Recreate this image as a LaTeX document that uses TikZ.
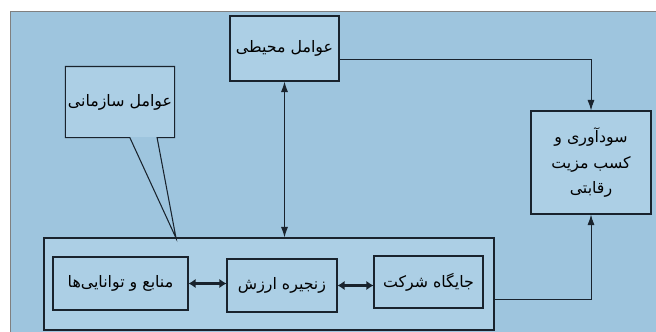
\documentclass[tikz,border=0pt]{standalone}
\usepackage{fontspec}
\usetikzlibrary{arrows.meta,calc}
\newfontfamily\arabicfont[Script=Arabic]{DejaVu Sans}
\TeXXeTstate=1
\definecolor{bgblue}{RGB}{158,197,222}
\definecolor{boxblue}{RGB}{172,207,229}
\definecolor{edge}{RGB}{25,35,45}
\newcommand{\fa}[1]{\beginR #1\endR}
\tikzset{
  block/.style={draw=edge,fill=boxblue,line width=0.9pt,inner sep=0pt,align=center,
    font=\arabicfont\fontsize{13.5}{22}\selectfont},
  flow/.style={draw=edge,line width=0.8pt,-{Latex[length=9pt,width=6pt]}},
  twoway/.style={draw=edge,line width=0.8pt,{Latex[length=9pt,width=6pt]}-{Latex[length=9pt,width=6pt]}},
  link/.style={draw=edge,line width=2pt,{Latex[length=6pt,width=8pt]}-{Latex[length=6pt,width=8pt]}},
}
\begin{document}
\begin{tikzpicture}[x=0.03cm,y=-0.03cm]
  \useasboundingbox (0,0) rectangle (656,331);
  \fill[white] (0,0) rectangle (656,331);
  \path[fill=bgblue,draw=gray,line width=0.8pt] (10,11) rectangle (658,333);
  % top and right boxes
  \path (284.5,48.5) node[block,minimum width=3.27cm,minimum height=1.95cm] (env) {\fa{عوامل محیطی}};
  \path (591,162.5) node[block,minimum width=3.6cm,minimum height=3.09cm] (gain)
    {\fa{سودآوری و}\\\fa{کسب مزیت}\\\fa{رقابتی}};
  % the firm and its parts
  \path (269,284) node[block,minimum width=13.5cm,minimum height=2.76cm] (firm) {};
  \path (120.5,283.5) node[block,minimum width=4.05cm,minimum height=1.59cm] (res) {\fa{منابع و توانایی‌ها}};
  \path (282,285.5) node[block,minimum width=3.3cm,minimum height=1.59cm] (chain) {\fa{زنجیره ارزش}};
  \path (428.5,282) node[block,minimum width=3.27cm,minimum height=1.56cm] (pos) {\fa{جایگاه شرکت}};
  % callout
  \path (120,102) node[block,draw=none,minimum width=3.24cm,minimum height=2.1cm] (org) {\fa{عوامل سازمانی}};
  \coordinate (orgtip) at (176,238);
  \draw[edge,line width=0.9pt] (org.south west) -- (org.north west) -- (org.north east) -- (org.south east)
    -- ($(org.south west)!0.84!(org.south east)$) -- (orgtip)
    -- ($(org.south west)!0.59!(org.south east)$) -- cycle;
  % connectors
  \draw[twoway] (env.south) -- (env.south |- firm.north);
  \draw[flow] ($(env.south east)!0.34!(env.north east)$) -| (gain.north);
  \draw[flow] ($(firm.south east)!0.33!(firm.north east)$) -| (gain.south);
  \draw[link] (res.east) -- (res.east -| chain.west);
  \draw[link] (chain.east) -- (chain.east -| pos.west);
\end{tikzpicture}
\end{document}
